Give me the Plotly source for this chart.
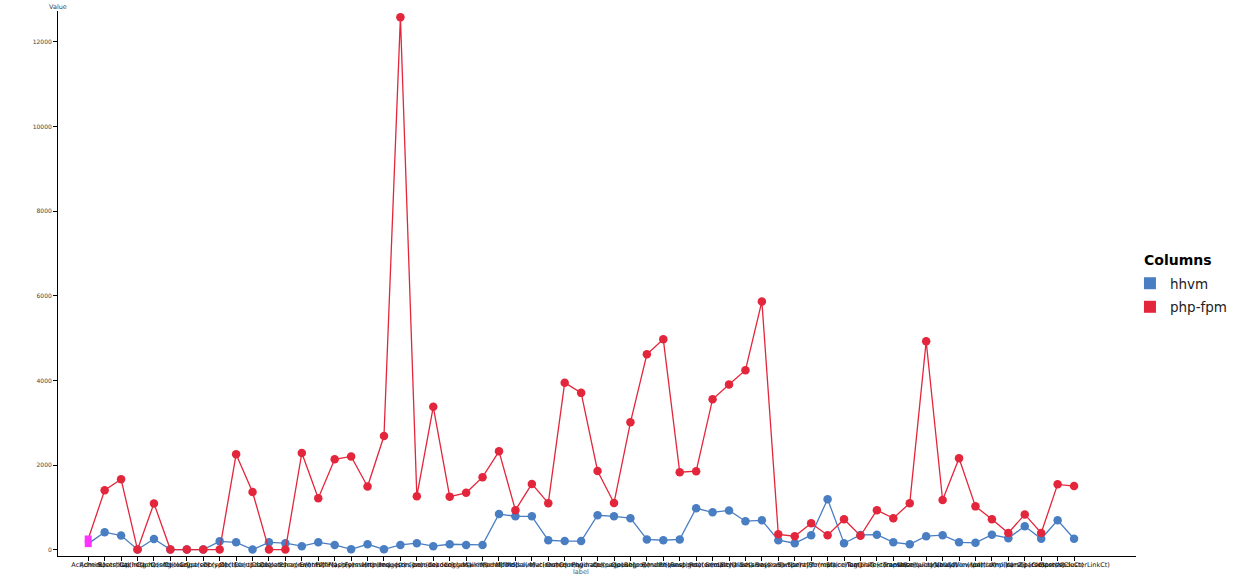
import plotly.graph_objects as go

labels = [
    "Acl(check)", "AdminUser(list)", "Bootstrap(init)", "Cache(get)", "Cache(set)",
    "Config(load)", "Cookie(parse)", "Crypt(encrypt)", "Db(select)", "Db(insert)",
    "Db(update)", "Db(delete)", "Dispatcher(run)", "Escaper(html)", "Events(fire)",
    "Filter(apply)", "Flash(session)", "Forms(render)", "Http(request)", "Image(resize)",
    "Json(encode)", "Json(decode)", "Loader(class)", "Logger(write)", "Mailer(send)",
    "Model(find)", "Model(save)", "Model(relations)", "Mvc(router)", "Orm(query)",
    "Orm(hydrate)", "Paginator(page)", "Queue(push)", "Queue(pop)", "Regex(match)",
    "Render(view)", "Request(get)", "Response(send)", "Router(match)", "Security(hash)",
    "Serialize(array)", "Session(read)", "Session(write)", "Sort(array)", "Sprintf(format)",
    "Str(replace)", "Str(concat)", "Tag(link)", "Template(compile)", "Text(camelize)",
    "Translate(query)", "Unserialize(array)", "Url(build)", "Validation(run)", "View(partial)",
    "Volt(compile)", "Xml(parse)", "Yaml(parse)", "Zip(compress)", "Cluster(NodeCt)",
    "Cluster(ClusterLinkCt)",
]

hhvm = [
    150, 420, 340, 10, 260, 10, 10, 10, 205, 180,
    10, 180, 160, 90, 180, 120, 15, 135, 15, 120,
    160, 90, 135, 120, 120, 850, 795, 795, 230, 210,
    210, 820, 795, 750, 250, 230, 250, 985, 890, 935,
    680, 700, 230, 160, 350, 1200, 160, 355, 360, 180,
    135, 325, 350, 180, 170, 360, 280, 560, 265, 700,
    265,
]

php_fpm = [
    260, 1410, 1670, 10, 1100, 10, 10, 10, 10, 2260,
    1370, 10, 10, 2290, 1220, 2140, 2210, 1500, 2690, 12580,
    1270, 3380, 1260, 1350, 1720, 2330, 940, 1560, 1105, 3950,
    3710, 1865, 1110, 3015, 4620, 4975, 1835, 1860, 3560, 3910,
    4245, 5870, 370, 325, 630, 350, 725, 335, 940, 750,
    1105, 4930, 1180, 2165, 1030, 725, 400, 840, 400, 1550,
    1510,
]

y_ticks = [0, 2000, 4000, 6000, 8000, 10000, 12000]
series_names = ["hhvm", "php-fpm"]
series_colors = ["#4a7ec3", "#e3263b"]
highlight = "#ff33ff"

fig = go.Figure()
for name, vals, col in zip(series_names, [hhvm, php_fpm], series_colors):
    mcolors = [highlight] + [col] * (len(vals) - 1)
    msizes = [7] + [8.5] * (len(vals) - 1)
    msym = ["square"] + ["circle"] * (len(vals) - 1)
    fig.add_trace(go.Scatter(
        x=labels, y=vals, mode="lines+markers", name=name, showlegend=False,
        line=dict(color=col, width=1.3),
        marker=dict(color=mcolors, size=msizes, symbol=msym, opacity=1,
                    line=dict(width=0)),
    ))
for name, col in zip(series_names, series_colors):
    fig.add_trace(go.Scatter(
        x=[None], y=[None], mode="markers", name=name, legendgroup=name,
        marker=dict(color=col, size=12, symbol="square"),
    ))

fig.update_layout(
    width=1241, height=580,
    margin=dict(l=58, r=105, t=11, b=24, autoexpand=False),
    paper_bgcolor="white", plot_bgcolor="white",
    font=dict(family="DejaVu Sans", color="#444"),
    legend=dict(
        font=dict(size=13.5, color="#222"),
        x=0.9944, xanchor="left", y=0.5285, yanchor="top",
        bgcolor="rgba(0,0,0,0)", itemsizing="constant", tracegroupgap=3,
    ),
    xaxis=dict(
        type="category", range=[-1.84, 63.77], tickangle=0, automargin=False,
        tickmode="array", tickvals=labels, ticktext=labels,
        showgrid=False, zeroline=False, showline=True, linecolor="#000", linewidth=1,
        ticks="outside", ticklen=4, tickcolor="#000", tickwidth=1,
        ticklabelstandoff=-2,
        tickfont=dict(size=6.5, color="#111"),
    ),
    yaxis=dict(
        range=[-142, 12727], tickmode="array", tickvals=y_ticks,
        ticktext=[str(v) for v in y_ticks], automargin=False,
        showgrid=False, zeroline=False, showline=True, linecolor="#000", linewidth=1,
        ticks="outside", ticklen=4, tickcolor="#000", tickwidth=1,
        tickfont=dict(size=6, color="#444"),
    ),
    annotations=[
        dict(text="Value", xref="paper", yref="paper", x=0, y=1.0075,
             xanchor="center", yanchor="middle", showarrow=False,
             font=dict(size=6.5, color="#444")),
        dict(text="label", xref="x", yref="paper", x=labels[30], y=-0.03,
             xanchor="center", yanchor="middle", showarrow=False,
             font=dict(size=6.5, color="#555")),
        dict(text="<b>Columns</b>", xref="paper", yref="paper", x=1.0055, y=0.5431,
             xanchor="left", yanchor="middle", showarrow=False,
             font=dict(size=14, color="#000")),
    ],
)

fig.write_html("out.html", config={"displayModeBar": False},
               post_script="document.body.style.margin='0';")
